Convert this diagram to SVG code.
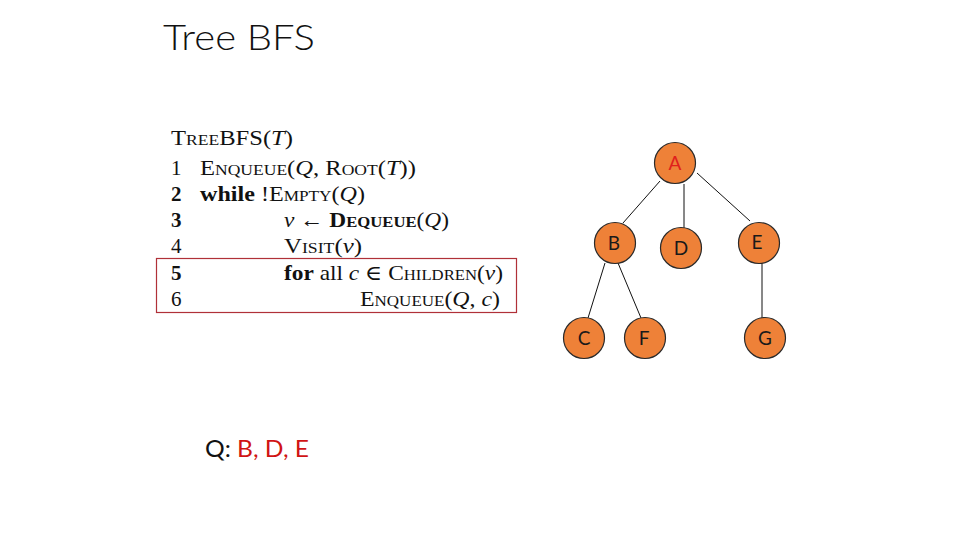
<svg xmlns="http://www.w3.org/2000/svg" width="960" height="540" viewBox="0 0 960 540">
<style>
.title{font-family:Lato,"Open Sans","Liberation Sans",sans-serif;font-size:36px;font-weight:300;fill:#111}
.code{font-family:"Liberation Serif","DejaVu Serif",serif;font-size:21px;fill:#111}
.sc{font-variant:small-caps}
.it{font-style:italic}
.b{font-weight:bold}
.node circle{fill:#EE8138;stroke:#2a2a2a;stroke-width:1.2}
.node text{font-family:Lato,"Open Sans","Liberation Sans",sans-serif;font-size:19px;fill:#1a1a1a;text-anchor:middle}
.edges line{stroke:#111;stroke-width:1}
.q{font-family:Lato,"Open Sans","Liberation Sans",sans-serif;font-size:24px;fill:#111}
</style>
<rect width="960" height="540" fill="#fff"/>
<text class="title" x="163" y="50" textLength="152" lengthAdjust="spacingAndGlyphs">Tree BFS</text>

<g id="code">
<text class="code" x="171" y="145" textLength="122" lengthAdjust="spacingAndGlyphs"><tspan class="sc">TreeBFS</tspan>(<tspan class="it">T</tspan>)</text>
<text class="code" x="171" y="175">1</text>
<text class="code" x="200" y="175" textLength="216" lengthAdjust="spacingAndGlyphs"><tspan class="sc">Enqueue</tspan>(<tspan class="it">Q</tspan>, <tspan class="sc">Root</tspan>(<tspan class="it">T</tspan>))</text>
<text class="code b" x="171" y="201">2</text>
<text class="code" x="200" y="201" textLength="165" lengthAdjust="spacingAndGlyphs"><tspan class="b">while</tspan> !<tspan class="sc">Empty</tspan>(<tspan class="it">Q</tspan>)</text>
<text class="code b" x="171" y="227">3</text>
<text class="code" x="284" y="227" textLength="165" lengthAdjust="spacingAndGlyphs"><tspan class="it">v</tspan> ← <tspan class="sc b">Dequeue</tspan>(<tspan class="it">Q</tspan>)</text>
<text class="code" x="171" y="253">4</text>
<text class="code" x="284" y="253" textLength="78" lengthAdjust="spacingAndGlyphs"><tspan class="sc">Visit</tspan>(<tspan class="it">v</tspan>)</text>
<text class="code b" x="171" y="280">5</text>
<text class="code" x="284" y="280" textLength="219" lengthAdjust="spacingAndGlyphs"><tspan class="b">for</tspan> all <tspan class="it">c</tspan> ∈ <tspan class="sc">Children</tspan>(<tspan class="it">v</tspan>)</text>
<text class="code" x="171" y="306">6</text>
<text class="code" x="360" y="306" textLength="140" lengthAdjust="spacingAndGlyphs"><tspan class="sc">Enqueue</tspan>(<tspan class="it">Q</tspan>, <tspan class="it">c</tspan>)</text>
</g>
<rect id="highlight" x="156.5" y="258.5" width="360" height="54" fill="none" stroke="#b03038" stroke-width="1.2"/>

<g class="edges" id="edges">
<line x1="660" y1="181" x2="623" y2="223"/>
<line x1="684" y1="184" x2="684" y2="228"/>
<line x1="697" y1="173" x2="750" y2="221"/>
<line x1="605" y1="263" x2="588" y2="318"/>
<line x1="618" y1="263" x2="641" y2="318"/>
<line x1="762" y1="263" x2="762" y2="318"/>
</g>

<g class="node" id="node-A"><circle cx="675" cy="163" r="20.5"/><text x="675" y="170" style="fill:#e0201c">A</text></g>
<g class="node" id="node-B"><circle cx="615" cy="243" r="20.5"/><text x="614" y="250">B</text></g>
<g class="node" id="node-D"><circle cx="681" cy="248" r="20.5"/><text x="681" y="255">D</text></g>
<g class="node" id="node-E"><circle cx="759" cy="243" r="20.5"/><text x="757" y="249">E</text></g>
<g class="node" id="node-C"><circle cx="584" cy="338" r="20.5"/><text x="584" y="345">C</text></g>
<g class="node" id="node-F"><circle cx="645" cy="338" r="20.5"/><text x="644" y="345">F</text></g>
<g class="node" id="node-G"><circle cx="765" cy="338" r="20.5"/><text x="765" y="345">G</text></g>

<text class="q" x="205" y="457" textLength="104" lengthAdjust="spacingAndGlyphs">Q: <tspan fill="#d01414">B, D, E</tspan></text>
</svg>
